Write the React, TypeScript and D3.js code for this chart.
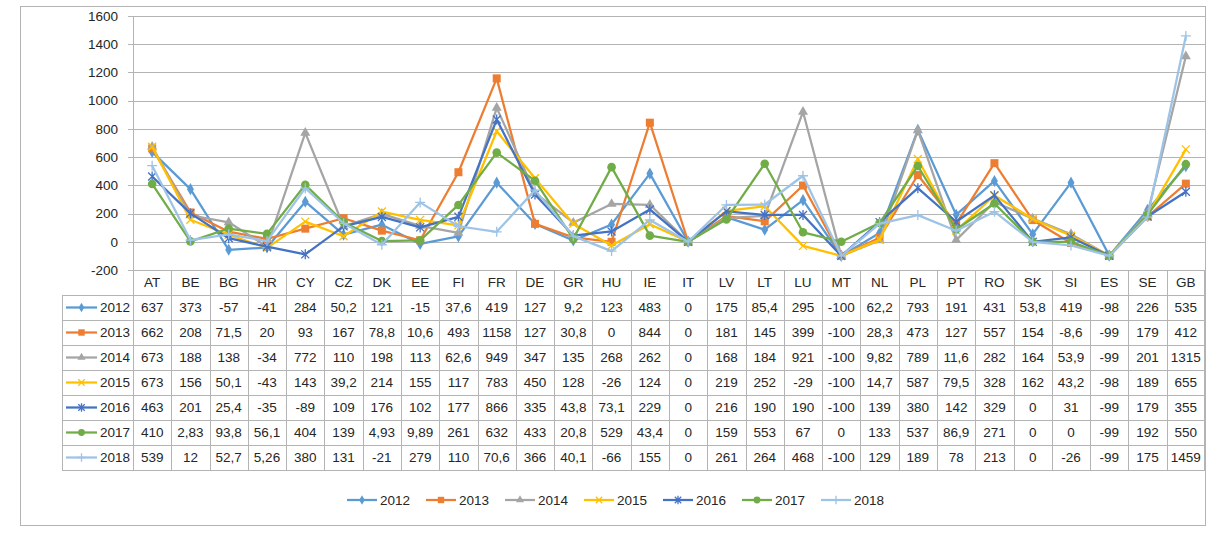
import React, { useEffect, useRef } from 'react'
import * as d3 from 'd3'

const countries = ['AT', 'BE', 'BG', 'HR', 'CY', 'CZ', 'DK', 'EE', 'FI', 'FR', 'DE', 'GR', 'HU', 'IE', 'IT', 'LV', 'LT', 'LU', 'MT', 'NL', 'PL', 'PT', 'RO', 'SK', 'SI', 'ES', 'SE', 'GB']

const years = ['2012', '2013', '2014', '2015', '2016', '2017', '2018']

const values2012 = [637, 373, -57, -41, 284, 50.2, 121, -15, 37.6, 419, 127, 9.2, 123, 483, 0, 175, 85.4, 295, -100, 62.2, 793, 191, 431, 53.8, 419, -98, 226, 535]
const values2013 = [662, 208, 71.5, 20, 93, 167, 78.8, 10.6, 493, 1158, 127, 30.8, 0, 844, 0, 181, 145, 399, -100, 28.3, 473, 127, 557, 154, -8.6, -99, 179, 412]
const values2014 = [673, 188, 138, -34, 772, 110, 198, 113, 62.6, 949, 347, 135, 268, 262, 0, 168, 184, 921, -100, 9.82, 789, 11.6, 282, 164, 53.9, -99, 201, 1315]
const values2015 = [673, 156, 50.1, -43, 143, 39.2, 214, 155, 117, 783, 450, 128, -26, 124, 0, 219, 252, -29, -100, 14.7, 587, 79.5, 328, 162, 43.2, -98, 189, 655]
const values2016 = [463, 201, 25.4, -35, -89, 109, 176, 102, 177, 866, 335, 43.8, 73.1, 229, 0, 216, 190, 190, -100, 139, 380, 142, 329, 0, 31, -99, 179, 355]
const values2017 = [410, 2.83, 93.8, 56.1, 404, 139, 4.93, 9.89, 261, 632, 433, 20.8, 529, 43.4, 0, 159, 553, 67, 0, 133, 537, 86.9, 271, 0, 0, -99, 192, 550]
const values2018 = [539, 12, 52.7, 5.26, 380, 131, -21, 279, 110, 70.6, 366, 40.1, -66, 155, 0, 261, 264, 468, -100, 129, 189, 78, 213, 0, -26, -99, 175, 1459]

const yTicks = [-200, 0, 200, 400, 600, 800, 1000, 1200, 1400, 1600]

const seriesValues = [values2012, values2013, values2014, values2015, values2016, values2017, values2018]
const colors = ['#5b9bd5', '#ed7d31', '#a5a5a5', '#ffc000', '#4472c4', '#70ad47', '#9dc3e6']
const markers = ['diamond', 'square', 'triangle', 'x', 'star', 'circle', 'plus']

const W = 1219
const H = 537
const FONT = '"Liberation Sans", Arial, sans-serif'
const GRID = '#b4b4b4'
const TEXT = '#262626'

const fmt = (v: number) => String(v).replace('.', ',')

// draws one marker of the given kind centred at (x, y)
function drawMarker(g: d3.Selection<SVGGElement, unknown, null, undefined>, kind: string, x: number, y: number, color: string, k = 1) {
    const s = 4 * k
    if (kind === 'diamond') {
        g.append('path').attr('d', d3.symbol(d3.symbolDiamond, 42 * k * k)()!).attr('transform', `translate(${x},${y})`).attr('fill', color)
    } else if (kind === 'square') {
        g.append('rect').attr('x', x - 4 * k).attr('y', y - 4 * k).attr('width', 8 * k).attr('height', 8 * k).attr('fill', color)
    } else if (kind === 'triangle') {
        g.append('path').attr('d', d3.symbol(d3.symbolTriangle, 44 * k * k)()!).attr('transform', `translate(${x},${y})`).attr('fill', color)
    } else if (kind === 'circle') {
        g.append('circle').attr('cx', x).attr('cy', y).attr('r', 4.3 * k).attr('fill', color)
    } else {
        let d = ''
        if (kind === 'x' || kind === 'star') d += `M${x - s},${y - s}L${x + s},${y + s}M${x - s},${y + s}L${x + s},${y - s}`
        if (kind === 'star') d += `M${x},${y - s - 1}L${x},${y + s + 1}`
        if (kind === 'plus') d += `M${x - s - 1},${y}L${x + s + 1},${y}M${x},${y - s - 1}L${x},${y + s + 1}`
        g.append('path').attr('d', d).attr('fill', 'none').attr('stroke', color).attr('stroke-width', 1.3)
    }
}

export default function App() {
    const svgRef = useRef<SVGSVGElement | null>(null)

    useEffect(() => {
        const svg = d3.select(svgRef.current)
        svg.selectAll('*').remove()

        const plotLeft = 133
        const plotRight = 1205
        const plotTop = 16
        const plotBottom = 270
        const rowH = 25
        const tableLeft = 62
        const headerBottom = 295

        const x = d3.scaleBand<string>().domain(countries).range([plotLeft, plotRight])
        const y = d3.scaleLinear().domain([-200, 1600]).range([plotBottom, plotTop])
        const cx = (c: string) => x(c)! + x.bandwidth() / 2

        // outer frame
        svg.append('rect')
            .attr('x', 20.5).attr('y', 6.5)
            .attr('width', 1205 - 20).attr('height', 525 - 6)
            .attr('fill', 'white').attr('stroke', GRID)

        // gridlines + tick labels
        const grid = svg.append('g')
        yTicks.forEach((t) => {
            grid.append('line')
                .attr('x1', plotLeft - 5).attr('x2', plotRight)
                .attr('y1', Math.round(y(t)) + 0.5).attr('y2', Math.round(y(t)) + 0.5)
                .attr('stroke', GRID)
            grid.append('text')
                .attr('x', 118).attr('y', y(t))
                .attr('dy', '0.35em').attr('text-anchor', 'end')
                .attr('font-family', FONT).attr('font-size', 13.5).attr('fill', TEXT)
                .text(t)
        })
        grid.append('line')
            .attr('x1', plotLeft + 0.5).attr('x2', plotLeft + 0.5)
            .attr('y1', plotTop).attr('y2', plotBottom)
            .attr('stroke', GRID)

        // data table
        const table = svg.append('g')
        const tableBottom = headerBottom + rowH * years.length
        countries.forEach((c, i) => {
            const bx = x(c)!
            table.append('line')
                .attr('x1', Math.round(bx) + 0.5).attr('x2', Math.round(bx) + 0.5)
                .attr('y1', plotBottom).attr('y2', tableBottom)
                .attr('stroke', GRID)
            table.append('text')
                .attr('x', cx(c)).attr('y', (plotBottom + headerBottom) / 2)
                .attr('dy', '0.35em').attr('text-anchor', 'middle')
                .attr('font-family', FONT).attr('font-size', 13.5).attr('fill', TEXT)
                .text(c)
            if (i === countries.length - 1) {
                table.append('line')
                    .attr('x1', plotRight - 0.5).attr('x2', plotRight - 0.5)
                    .attr('y1', plotBottom).attr('y2', tableBottom)
                    .attr('stroke', GRID)
            }
        })
        table.append('line')
            .attr('x1', tableLeft + 0.5).attr('x2', tableLeft + 0.5)
            .attr('y1', headerBottom).attr('y2', tableBottom)
            .attr('stroke', GRID)
        for (let r = 0; r <= years.length; r++) {
            const ry = Math.round(headerBottom + r * rowH) + 0.5
            table.append('line')
                .attr('x1', tableLeft).attr('x2', plotRight)
                .attr('y1', ry).attr('y2', ry)
                .attr('stroke', GRID)
        }
        years.forEach((yr, r) => {
            const ry = headerBottom + r * rowH + rowH / 2
            table.append('line')
                .attr('x1', 66).attr('x2', 97)
                .attr('y1', ry).attr('y2', ry)
                .attr('stroke', colors[r]).attr('stroke-width', 2.25)
            drawMarker(table, markers[r], 81.5, ry, colors[r], 0.8)
            table.append('text')
                .attr('x', 130).attr('y', ry)
                .attr('dy', '0.35em').attr('text-anchor', 'end')
                .attr('font-family', FONT).attr('font-size', 13.5).attr('fill', TEXT)
                .text(yr)
            seriesValues[r].forEach((v, i) => {
                table.append('text')
                    .attr('x', cx(countries[i])).attr('y', ry)
                    .attr('dy', '0.35em').attr('text-anchor', 'middle')
                    .attr('font-family', FONT).attr('font-size', 13.5).attr('fill', TEXT)
                    .text(fmt(v))
            })
        })

        // series lines
        const line = d3.line<number>()
            .x((_, i) => cx(countries[i]))
            .y((d) => y(d))
        seriesValues.forEach((vals, s) => {
            const g = svg.append('g')
            g.append('path')
                .attr('d', line(vals)!)
                .attr('fill', 'none')
                .attr('stroke', colors[s])
                .attr('stroke-width', 2.25)
                .attr('stroke-linejoin', 'round')
            vals.forEach((v, i) => drawMarker(g, markers[s], cx(countries[i]), y(v), colors[s]))
        })

        // legend
        const legend = svg.append('g')
        years.forEach((yr, s) => {
            const mx = 362 + s * 79
            const ly = 500
            legend.append('line')
                .attr('x1', mx - 15).attr('x2', mx + 15)
                .attr('y1', ly).attr('y2', ly)
                .attr('stroke', colors[s]).attr('stroke-width', 2.25)
            drawMarker(legend, markers[s], mx, ly, colors[s], 0.8)
            legend.append('text')
                .attr('x', mx + 18).attr('y', ly)
                .attr('dy', '0.35em')
                .attr('font-family', FONT).attr('font-size', 13.5).attr('fill', TEXT)
                .text(yr)
        })
    }, [])

    return (
        <svg ref={svgRef} width={W} height={H} style={{ position: 'absolute', left: 0, top: 0, background: 'white' }}>
            <g />
        </svg>
    )
}
